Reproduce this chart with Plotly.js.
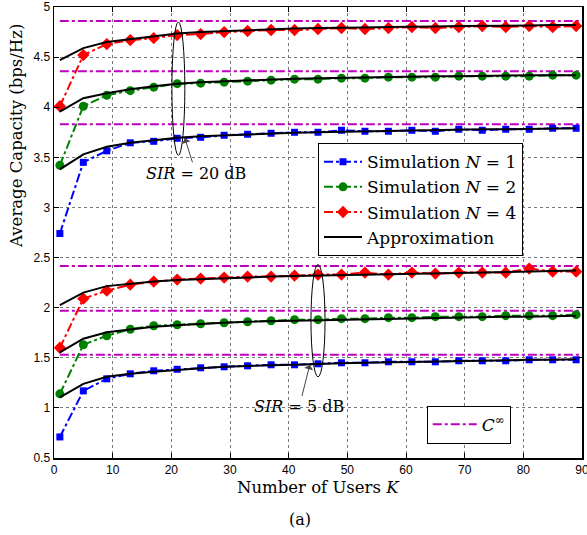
<!DOCTYPE html>
<html>
<head>
<meta charset="utf-8">
<script src="https://cdn.plot.ly/plotly-3.0.1.min.js"></script>
<style>html,body{margin:0;padding:0;background:#fff;}#chart{width:587px;height:535px;}</style>
</head>
<body>
<div id="chart"></div>
<script>
// Number of users K (marker positions)
const usersK = [1,5,9,13,17,21,25,29,33,37,41,45,49,53,57,61,65,69,73,77,81,85,89];

// SIR = 20 dB
const sim20N1 = [2.74,3.45,3.565,3.645,3.66,3.69,3.70,3.72,3.73,3.74,3.75,3.75,3.77,3.76,3.76,3.77,3.76,3.78,3.77,3.78,3.78,3.79,3.79];
const sim20N2 = [3.42,4.01,4.12,4.165,4.20,4.235,4.24,4.25,4.26,4.27,4.28,4.28,4.29,4.29,4.30,4.30,4.30,4.31,4.31,4.31,4.31,4.32,4.32];
const sim20N4 = [4.01,4.52,4.63,4.67,4.69,4.72,4.73,4.75,4.76,4.77,4.77,4.78,4.79,4.78,4.79,4.80,4.79,4.80,4.81,4.80,4.81,4.80,4.81];
const apx20N1 = [3.38,3.53,3.605,3.645,3.67,3.695,3.71,3.72,3.73,3.74,3.745,3.75,3.755,3.76,3.765,3.77,3.77,3.775,3.78,3.78,3.785,3.785,3.79];
const apx20N2 = [3.955,4.09,4.14,4.18,4.21,4.235,4.25,4.26,4.27,4.28,4.285,4.29,4.295,4.30,4.30,4.305,4.31,4.31,4.315,4.315,4.32,4.32,4.32];
const apx20N4 = [4.47,4.59,4.65,4.68,4.71,4.735,4.75,4.76,4.77,4.78,4.785,4.79,4.79,4.795,4.80,4.80,4.805,4.81,4.81,4.815,4.815,4.82,4.82];

// SIR = 5 dB
const sim5N1 = [0.71,1.17,1.29,1.34,1.37,1.385,1.40,1.41,1.42,1.43,1.43,1.44,1.45,1.45,1.46,1.46,1.46,1.47,1.47,1.47,1.48,1.48,1.48];
const sim5N2 = [1.14,1.63,1.72,1.785,1.82,1.83,1.84,1.85,1.86,1.87,1.88,1.88,1.89,1.89,1.90,1.90,1.91,1.91,1.91,1.92,1.92,1.92,1.93];
const sim5N4 = [1.60,2.09,2.17,2.23,2.26,2.28,2.29,2.30,2.31,2.31,2.32,2.33,2.33,2.35,2.33,2.35,2.34,2.35,2.35,2.35,2.39,2.36,2.36];
const apx5N1 = [1.105,1.24,1.31,1.34,1.36,1.38,1.395,1.41,1.42,1.425,1.43,1.44,1.445,1.45,1.455,1.46,1.465,1.47,1.47,1.475,1.48,1.48,1.485];
const apx5N2 = [1.555,1.69,1.755,1.785,1.81,1.825,1.84,1.85,1.86,1.865,1.87,1.875,1.88,1.885,1.89,1.895,1.90,1.90,1.905,1.91,1.91,1.915,1.92];
const apx5N4 = [2.025,2.15,2.215,2.24,2.26,2.275,2.285,2.295,2.305,2.31,2.315,2.32,2.325,2.33,2.335,2.34,2.345,2.35,2.35,2.355,2.36,2.365,2.37];

// Asymptotic capacity C-infinity levels and their K span
const cInf = [4.86,4.36,3.83,2.415,1.97,1.53];
const cInfK = [1,90];

// Tick labels
const xTicks = [0,10,20,30,40,50,60,70,80,90];
const yTicks = [0.5,1,1.5,2,2.5,3,3.5,4,4.5,5];
const yTickText = ['0.5','1','1.5','2','2.5','3','3.5','4','4.5','5'];

const serif = 'DejaVu Serif, Liberation Serif, serif';
const sans = 'Liberation Sans, Arial, sans-serif';
const blue = '#0000ff', green = '#008000', red = '#ff0000', mag = '#bf00bf';
const sp = '&nbsp;';

const traces = [];
cInf.forEach((c,i)=>{
  traces.push({x:cInfK, y:[c,c], mode:'lines', line:{color:mag, width:2, dash:'dashdot'},
    name:'<i>C</i><sup>∞</sup>', legend:'legend2', showlegend:i===0, hoverinfo:'skip'});
});
function sim(y, color, symbol, size, name, show){
  return {x:usersK, y:y, mode:'lines+markers', name:name, showlegend:show, legendgroup:name,
    line:{color:color, width:2, dash:'dashdot'}, marker:{color:color, symbol:symbol, size:size}};
}
function apx(y, show){
  return {x:usersK, y:y, mode:'lines', name:'Approximation', showlegend:show, legendgroup:'apx',
    line:{color:'#000', width:2}};
}
const n1 = 'Simulation <i>N</i>'+sp+'='+sp+'1';
const n2 = 'Simulation <i>N</i>'+sp+'='+sp+'2';
const n4 = 'Simulation <i>N</i>'+sp+'='+sp+'4';
traces.push(sim(sim20N1, blue, 'square', 7, n1, true));
traces.push(sim(sim20N2, green, 'circle', 9, n2, true));
traces.push(sim(sim20N4, red, 'diamond', 9.5, n4, true));
traces.push(sim(sim5N1, blue, 'square', 7, n1, false));
traces.push(sim(sim5N2, green, 'circle', 9, n2, false));
traces.push(sim(sim5N4, red, 'diamond', 9.5, n4, false));
traces.push(apx(apx20N1, true));
traces.push(apx(apx20N2, false));
traces.push(apx(apx20N4, false));
traces.push(apx(apx5N1, false));
traces.push(apx(apx5N2, false));
traces.push(apx(apx5N4, false));

const axisCommon = {showline:true, linecolor:'#000', linewidth:1.5, mirror:'ticks', ticks:'inside', ticklen:5,
  tickcolor:'#000', showgrid:true, gridcolor:'#777', griddash:'dot', gridwidth:1, zeroline:false,
  ticklabeloverflow:'allow', tickfont:{family:sans, size:12, color:'#000'}};

const layout = {
  width:587, height:535,
  margin:{l:54, r:5, t:7, b:77},
  paper_bgcolor:'#fff', plot_bgcolor:'#fff',
  xaxis:Object.assign({}, axisCommon, {range:[0,90], tickvals:xTicks, ticktext:xTicks.map(String)}),
  yaxis:Object.assign({}, axisCommon, {range:[0.5,5], tickvals:yTicks, ticktext:yTickText}),
  legend:{x:0.5, y:0.698, xanchor:'left', yanchor:'top', bgcolor:'#fff', bordercolor:'#000', borderwidth:1,
    font:{family:serif, size:17, color:'#000'}, itemwidth:38, tracegroupgap:0},
  legend2:{x:0.706, y:0.116, xanchor:'left', yanchor:'top', bgcolor:'#fff', bordercolor:'#000', borderwidth:1,
    font:{family:serif, size:17, color:'#000'}, itemwidth:44},
  shapes:[
    {type:'circle', xref:'x', yref:'y', x0:20.1, x1:22.3, y0:3.52, y1:4.85, line:{color:'#000', width:1}},
    {type:'circle', xref:'x', yref:'y', x0:43.8, x1:46.2, y0:1.31, y1:2.43, line:{color:'#000', width:1}}
  ],
  annotations:[
    {x:22.3, y:3.69, xref:'x', yref:'y', axref:'x', ayref:'y', ax:24.2, ay:3.34,
     text:'<i>SIR</i> = 20 dB', showarrow:true, arrowhead:1, arrowsize:1.5, arrowwidth:1, standoff:0,
     font:{family:serif, size:16, color:'#000'}},
    {x:43.6, y:1.43, xref:'x', yref:'y', axref:'x', ayref:'y', ax:41.8, ay:1.01,
     text:'<i>SIR</i> = 5 dB', showarrow:true, arrowhead:1, arrowsize:1.5, arrowwidth:1, standoff:0,
     font:{family:serif, size:16, color:'#000'}},
    {x:0.5, y:-0.065, xref:'paper', yref:'paper', xanchor:'center', yanchor:'middle', showarrow:false,
     text:'Number of Users <i>K</i>', font:{family:serif, size:16.5, color:'#000'}},
    {x:-0.071, y:0.713, xref:'paper', yref:'paper', xanchor:'center', yanchor:'middle', showarrow:false, textangle:-90,
     text:'Average Capacity (bps/Hz)', font:{family:serif, size:16.5, color:'#000'}},
    {x:0.465, y:-0.137, xref:'paper', yref:'paper', xanchor:'center', yanchor:'middle', showarrow:false,
     text:'(a)', font:{family:serif, size:16, color:'#000'}}
  ],
  showlegend:true
};

Plotly.newPlot('chart', traces, layout, {displayModeBar:false, staticPlot:true});
</script>
</body>
</html>
